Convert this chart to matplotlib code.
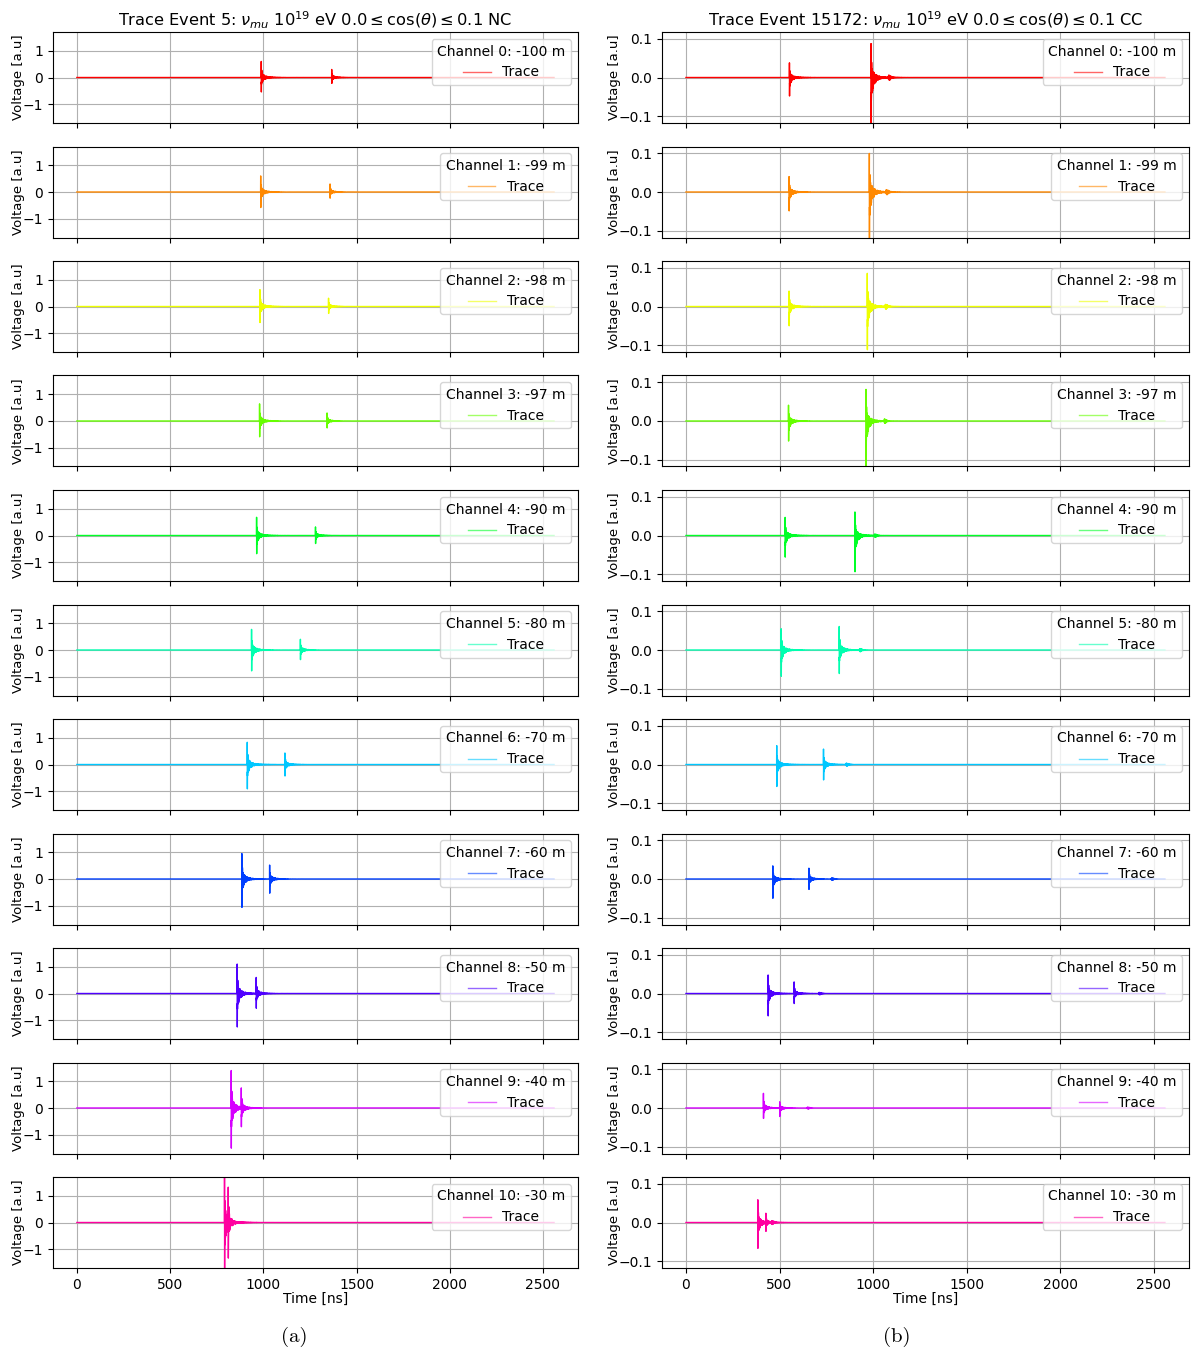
import numpy as np
import matplotlib.pyplot as plt

# channel depths
depths = [-100, -99, -98, -97, -90, -80, -70, -60, -50, -40, -30]

# Event 5 (NC): arrival time [ns], positive and negative peak per pulse
nc_times = [[989, 1367], [986, 1358], [982, 1350], [980, 1342], [964, 1280],
            [937, 1199], [914, 1116], [885, 1034], [860, 962], [828, 882],
            [792, 812]]
nc_up = [[0.60, 0.30], [0.60, 0.30], [0.63, 0.31], [0.64, 0.30], [0.68, 0.32],
         [0.77, 0.40], [0.83, 0.43], [0.95, 0.52], [1.10, 0.60], [1.40, 0.75],
         [1.80, 1.32]]
nc_down = [[-0.54, -0.22], [-0.58, -0.23], [-0.60, -0.26], [-0.59, -0.26],
           [-0.68, -0.30], [-0.78, -0.36], [-0.91, -0.43], [-1.06, -0.53],
           [-1.25, -0.55], [-1.50, -0.70], [-1.80, -1.33]]

# Event 15172 (CC)
cc_times = [[553, 989, 1080], [551, 980, 1067], [551, 969, 1062],
            [548, 962, 1057], [530, 903, 1005], [509, 819, 925],
            [485, 735, 853], [464, 657, 775], [439, 578, 708],
            [414, 501, 646], [384, 427, 455]]
cc_up = [[0.038, 0.088, 0.008], [0.040, 0.100, 0.008], [0.040, 0.086, 0.008],
         [0.041, 0.082, 0.008], [0.047, 0.061, 0.006], [0.055, 0.061, 0.005],
         [0.049, 0.040, 0.005], [0.034, 0.028, 0.004], [0.048, 0.030, 0.004],
         [0.038, 0.016, 0.003], [0.059, 0.024, 0.005]]
cc_down = [[-0.048, -0.130, -0.008], [-0.049, -0.130, -0.008],
           [-0.050, -0.112, -0.008], [-0.052, -0.130, -0.008],
           [-0.056, -0.094, -0.006], [-0.068, -0.061, -0.005],
           [-0.057, -0.040, -0.005], [-0.050, -0.027, -0.004],
           [-0.058, -0.026, -0.004], [-0.027, -0.022, -0.003],
           [-0.067, -0.023, -0.005]]

t = np.arange(0, 2560, 0.5)


def trace(times, ups, downs):
    v = np.zeros_like(t)
    for k, (t0, up, dn) in enumerate(zip(times, ups, downs)):
        dt = t - t0
        m = dt >= 0
        d = dt[m]
        osc = np.sin(2 * np.pi * 0.32 * d + 1.2) + 0.35 * np.sin(2 * np.pi * 0.71 * d)
        osc /= 1.35
        if k < 2:
            env = np.exp(-d / 2) + 0.35 * np.exp(-d / 15) + 0.06 * np.exp(-d / 50)
        else:
            env = (1 - np.exp(-d / 4)) * np.exp(-d / 10) * 2.2
        w = np.where(osc > 0, osc * up, -osc * dn)
        v[m] += env * w
        # leading samples carry the full spike
        i0 = np.searchsorted(t, t0)
        if k < 2:
            v[i0] = up
            v[i0 + 1] = dn
    return v


colors = [plt.cm.hsv(i / 11) for i in range(11)]

fig = plt.figure(figsize=(11.92, 13.49), dpi=100)
W, H = 1192, 1349

columns = [
    (53, 525, nc_times, nc_up, nc_down, 1.7, [-1, 0, 1],
     r'Trace Event 5: $\nu_{mu}$ $10^{19}$ eV $0.0 \leq \cos(\theta) \leq 0.1$ NC',
     '(a)', 294),
    (662, 527, cc_times, cc_up, cc_down, 0.118, [-0.1, 0.0, 0.1],
     r'Trace Event 15172: $\nu_{mu}$ $10^{19}$ eV $0.0 \leq \cos(\theta) \leq 0.1$ CC',
     '(b)', 897),
]

for x0, width, times, ups, downs, ylim, yticks, title, cap, cap_x in columns:
    for ch in range(11):
        top = 32 + ch * 114.5
        ax = fig.add_axes([x0 / W, 1 - (top + 91) / H, width / W, 91 / H])
        v = trace(times[ch], ups[ch], downs[ch])
        ax.plot(t, v, color=colors[ch], lw=1, label='Trace')
        ax.set_xlim(-128, 2688)
        ax.set_ylim(-ylim, ylim)
        ax.set_yticks(yticks)
        ax.set_xticks([0, 500, 1000, 1500, 2000, 2500])
        ax.grid(True)
        ax.set_ylabel('Voltage [a.u]', fontsize=9.5, labelpad=-1.5)
        leg = ax.legend(title=f'Channel {ch}: {depths[ch]} m', loc='upper right',
                        fontsize=10, title_fontsize=10)
        for h in leg.legend_handles:
            h.set_alpha(0.6)
        ax.tick_params(labelsize=10)
        if ch < 10:
            ax.tick_params(labelbottom=False)
        else:
            ax.set_xlabel('Time [ns]', fontsize=10, labelpad=0)
        if ch == 0:
            ax.set_title(title, fontsize=11.7, pad=4)
    fig.text(cap_x / W, 1 - 1337 / H, cap, ha='center', va='center',
             fontsize=15, family='cmr10')

fig.savefig('out.png', dpi=100)
